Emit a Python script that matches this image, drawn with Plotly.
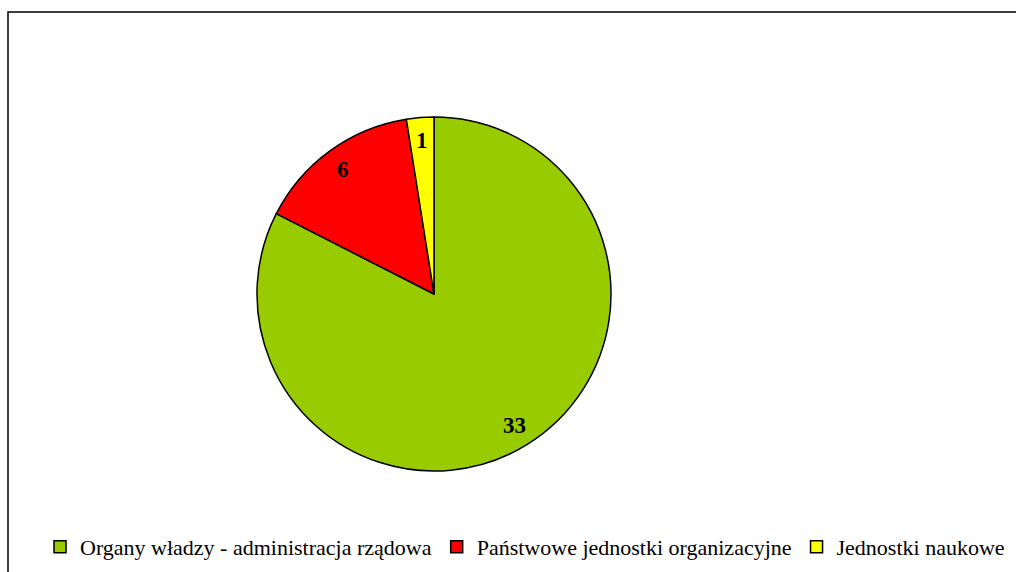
import math
import plotly.graph_objects as go

labels = ["Organy władzy - administracja rządowa", "Państwowe jednostki organizacyjne", "Jednostki naukowe"]
values = [33, 6, 1]
colors = ["#99CC00", "#FF0000", "#FFFF00"]

W, H = 1016, 572
cx, cy, R = 434, 294, 177

fig = go.Figure()
fig.add_trace(go.Pie(
    labels=labels, values=values, sort=False, direction="clockwise", rotation=0,
    marker=dict(colors=colors, line=dict(color="black", width=1.5)),
    textinfo="none", hoverinfo="label+value",
    domain=dict(x=[(cx - R) / W, (cx + R) / W], y=[1 - (cy + R) / H, 1 - (cy - R) / H]),
))

# value labels placed along each slice's mid-angle
total = sum(values)
cum = 0
for v in values:
    mid = (cum + v / 2) / total * 2 * math.pi
    cum += v
    px = cx + 0.87 * R * math.sin(mid)
    py = cy - 0.87 * R * math.cos(mid)
    fig.add_annotation(x=px / W, y=1 - py / H, xref="paper", yref="paper",
                       xanchor="center", yanchor="middle",
                       text="<b>%d</b>" % v, showarrow=False,
                       font=dict(family="Liberation Serif", size=23, color="black"))

fig.add_shape(type="rect", xref="paper", yref="paper",
              x0=8 / W, x1=1.02, y0=-0.02, y1=1 - 12 / H,
              line=dict(color="black", width=1.5))

fig.update_layout(
    width=W, height=H, margin=dict(l=0, r=0, t=0, b=0, autoexpand=False),
    paper_bgcolor="white", plot_bgcolor="white",
    showlegend=True,
    legend=dict(orientation="h", x=525 / W, xanchor="center", y=1 - 547 / H, yanchor="middle",
                font=dict(family="Liberation Serif", size=22, color="black"),
                itemwidth=30, tracegroupgap=0),
)

fig.write_html("out.html", config={"displayModeBar": False},
               post_script="document.body.style.margin='0';document.body.style.overflow='hidden';")
